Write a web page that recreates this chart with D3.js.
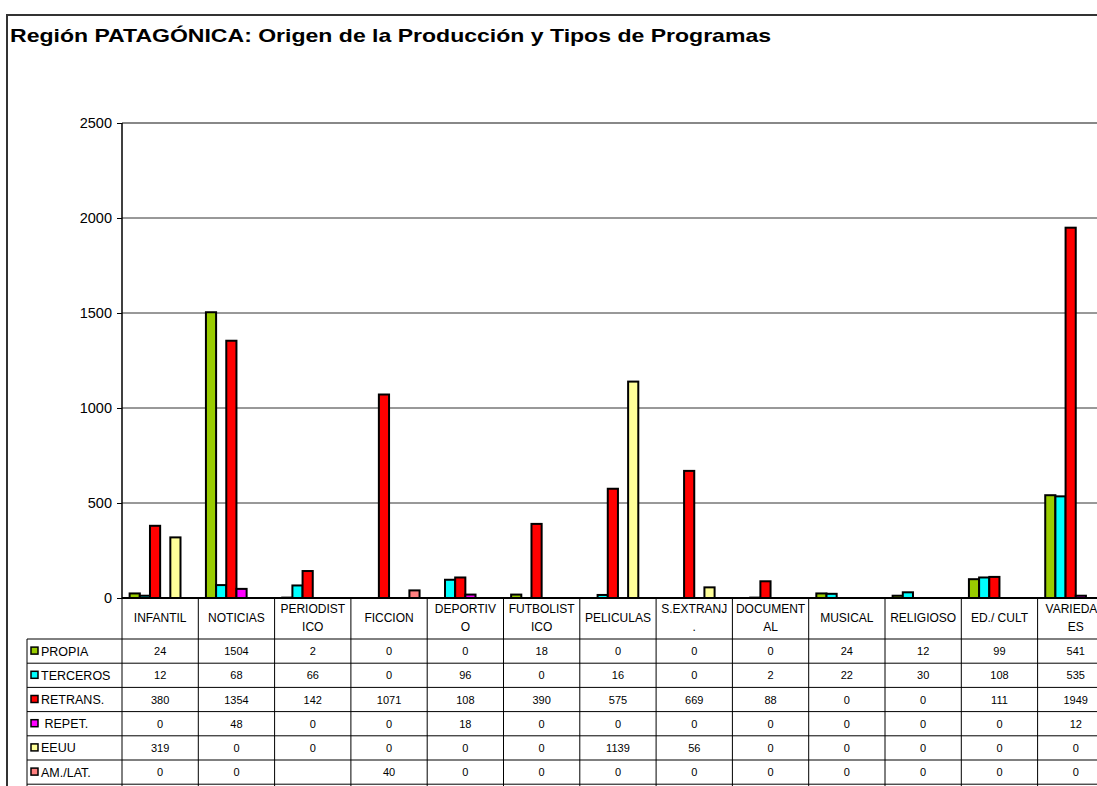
<!DOCTYPE html>
<html>
<head>
<meta charset="utf-8">
<script src="https://cdn.jsdelivr.net/npm/d3@7"></script>
<style>
  body { margin: 0; background: #fff; }
  text { font-family: "Liberation Sans", Arial, sans-serif; }
</style>
</head>
<body>
<div id="chart"></div>
<script>
// Categories and their wrapped labels as they appear in the data table header
const categories = ["INFANTIL", "NOTICIAS", "PERIODISTICO", "FICCION", "DEPORTIVO", "FUTBOLISTICO",
    "PELICULAS", "S.EXTRANJ.", "DOCUMENTAL", "MUSICAL", "RELIGIOSO", "ED./ CULT", "VARIEDADES"];
const categoryLabels = [["INFANTIL"], ["NOTICIAS"], ["PERIODIST", "ICO"], ["FICCION"], ["DEPORTIV", "O"],
    ["FUTBOLIST", "ICO"], ["PELICULAS"], ["S.EXTRANJ", "."], ["DOCUMENT", "AL"], ["MUSICAL"],
    ["RELIGIOSO"], ["ED./ CULT"], ["VARIEDAD", "ES"]];

const seriesNames = ["PROPIA", "TERCEROS", "RETRANS.", " REPET.", "EEUU", "AM./LAT."];
const seriesColors = ["#99cc00", "#00ffff", "#ff0000", "#ff00ff", "#ffff99", "#ff8080"];

const propia   = [24, 1504, 2, 0, 0, 18, 0, 0, 0, 24, 12, 99, 541];
const terceros = [12, 68, 66, 0, 96, 0, 16, 0, 2, 22, 30, 108, 535];
const retrans  = [380, 1354, 142, 1071, 108, 390, 575, 669, 88, 0, 0, 111, 1949];
const repet    = [0, 48, 0, 0, 18, 0, 0, 0, 0, 0, 0, 0, 12];
const eeuu     = [319, 0, 0, 0, 0, 0, 1139, 56, 0, 0, 0, 0, 0];
const amlat    = [0, 0, null, 40, 0, 0, 0, 0, 0, 0, 0, 0, 0];

const yTicks = [0, 500, 1000, 1500, 2000, 2500];

const allSeries = [propia, terceros, retrans, repet, eeuu, amlat];

const width = 1097, height = 786;
const plot = {left: 122, top: 123, bottom: 598};
const colWidth = 76.3;
const rowTop = 639, rowHeight = 24.2;

const svg = d3.select("#chart").append("svg")
    .attr("width", width)
    .attr("height", height);

// outer chart frame (clipped at right and bottom like the source)
svg.append("rect")
    .attr("x", 7).attr("y", 15)
    .attr("width", width + 20).attr("height", height)
    .attr("fill", "#fff")
    .attr("stroke", "#333")
    .attr("stroke-width", 2);

// the source title is stretched horizontally, so fit it to its width
svg.append("text")
    .attr("x", 10).attr("y", 41.5)
    .attr("font-size", 18.5)
    .attr("font-weight", "bold")
    .attr("fill", "#000")
    .attr("textLength", 761)
    .attr("lengthAdjust", "spacingAndGlyphs")
    .text("Región PATAGÓNICA: Origen de la Producción y Tipos de Programas");

const xScale = d3.scaleBand()
    .domain(categories)
    .range([plot.left, plot.left + colWidth * categories.length])
    .paddingInner(0);

const barWidth = colWidth / (seriesNames.length + 1.5);
const xInner = d3.scaleBand()
    .domain(d3.range(seriesNames.length))
    .range([barWidth * 0.75, colWidth - barWidth * 0.75]);

const yScale = d3.scaleLinear()
    .domain([0, 2500])
    .range([plot.bottom, plot.top]);

// gridlines
svg.append("g")
    .attr("class", "grid")
    .selectAll("line")
    .data(yTicks.slice(1))
    .enter()
    .append("line")
    .attr("x1", plot.left).attr("x2", width)
    .attr("y1", d => yScale(d)).attr("y2", d => yScale(d))
    .attr("stroke", d => d === 2500 ? "#888" : "#333")
    .attr("stroke-width", d => d === 2500 ? 2 : 1);

// bars
allSeries.forEach(function (values, s) {
    svg.append("g")
        .attr("class", "series")
        .selectAll("rect")
        .data(values.map((v, i) => ({cat: categories[i], v: v})).filter(d => d.v > 0))
        .enter()
        .append("rect")
        .attr("x", d => xScale(d.cat) + xInner(s))
        .attr("width", xInner.bandwidth())
        .attr("y", d => yScale(d.v))
        .attr("height", d => yScale(0) - yScale(d.v))
        .attr("fill", seriesColors[s])
        .attr("stroke", "#000")
        .attr("stroke-width", 2);
});

// y axis
const yAxis = d3.axisLeft(yScale)
    .tickValues(yTicks)
    .tickFormat(d3.format("d"))
    .tickSize(5)
    .tickPadding(5);

svg.append("g")
    .attr("class", "yAxis")
    .attr("transform", "translate(" + plot.left + ",0)")
    .call(yAxis)
    .call(g => g.select(".domain").remove())
    .call(g => g.selectAll("line").attr("stroke", "#000"))
    .call(g => g.selectAll("text").attr("font-size", 14.5).attr("fill", "#000")
        .style("font-family", "'Liberation Sans', Arial, sans-serif"));

svg.append("line")
    .attr("x1", plot.left).attr("x2", plot.left)
    .attr("y1", plot.top).attr("y2", plot.bottom)
    .attr("stroke", "#000").attr("stroke-width", 1.5);

svg.append("line")
    .attr("x1", plot.left).attr("x2", width)
    .attr("y1", plot.bottom).attr("y2", plot.bottom)
    .attr("stroke", "#000").attr("stroke-width", 2);

// data table
const table = svg.append("g").attr("class", "table");

// column separators
table.selectAll(".vline")
    .data(categories.concat(["end"]))
    .enter()
    .append("line")
    .attr("x1", (d, i) => plot.left + i * colWidth)
    .attr("x2", (d, i) => plot.left + i * colWidth)
    .attr("y1", plot.bottom).attr("y2", height)
    .attr("stroke", "#000").attr("stroke-width", 1);

table.append("line")
    .attr("x1", 27).attr("x2", 27)
    .attr("y1", rowTop).attr("y2", height)
    .attr("stroke", "#000");

// row separators
table.selectAll(".hline")
    .data(d3.range(seriesNames.length + 1))
    .enter()
    .append("line")
    .attr("x1", 27).attr("x2", width)
    .attr("y1", i => rowTop + i * rowHeight)
    .attr("y2", i => rowTop + i * rowHeight)
    .attr("stroke", "#000").attr("stroke-width", 1);

// header labels
categoryLabels.forEach(function (lines, i) {
    const cx = xScale(categories[i]) + colWidth / 2;
    const y0 = lines.length === 1 ? 622 : 613;
    lines.forEach(function (line, j) {
        table.append("text")
            .attr("x", cx).attr("y", y0 + j * 18)
            .attr("text-anchor", "middle")
            .attr("font-size", 12)
            .attr("fill", "#000")
            .text(line);
    });
});

// legend keys and row labels
seriesNames.forEach(function (name, s) {
    const cy = rowTop + s * rowHeight + rowHeight / 2;
    table.append("rect")
        .attr("x", 31).attr("y", cy - 4)
        .attr("width", 7).attr("height", 7)
        .attr("fill", seriesColors[s])
        .attr("stroke", "#000").attr("stroke-width", 1.5);
    table.append("text")
        .attr("x", 41).attr("y", cy + 4.5)
        .attr("font-size", 12.5)
        .attr("fill", "#000")
        .style("white-space", "pre")
        .attr("xml:space", "preserve")
        .text(name);

    allSeries[s].forEach(function (v, i) {
        if (v === null) return;
        table.append("text")
            .attr("x", xScale(categories[i]) + colWidth / 2)
            .attr("y", cy + 4)
            .attr("text-anchor", "middle")
            .attr("font-size", 11)
            .attr("fill", "#000")
            .text(v);
    });
});
</script>
</body>
</html>
